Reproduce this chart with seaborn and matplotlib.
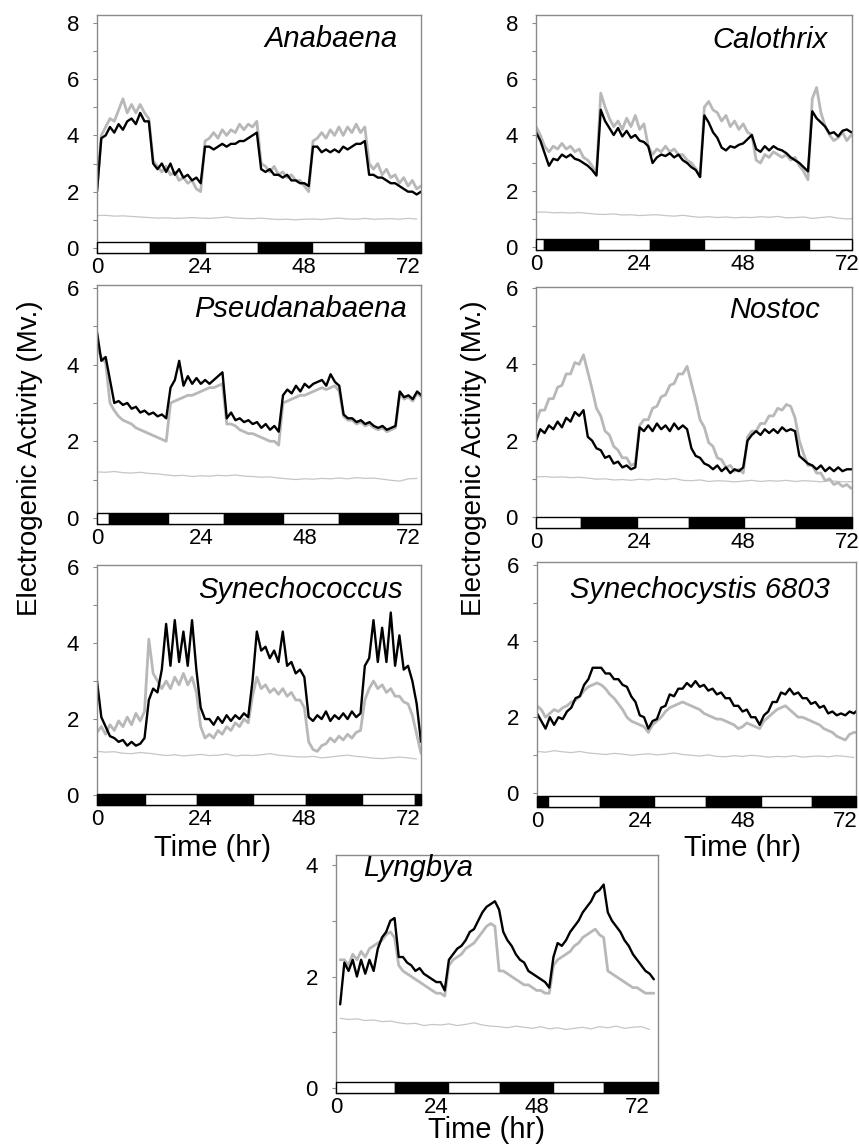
import matplotlib
matplotlib.use("Agg")
import matplotlib.pyplot as plt
import seaborn as sns

sns.set_style("white")
plt.rcParams["font.family"] = ["Liberation Sans", "DejaVu Sans"]
plt.rcParams["text.color"] = "black"
plt.rcParams["axes.labelcolor"] = "black"
plt.rcParams["xtick.color"] = "black"
plt.rcParams["ytick.color"] = "black"

# ---------------- data (hours, mV) ----------------
hours = list(range(0, 76))
base_hours = list(range(0, 76, 2))
lyngbya_hours = list(range(1, 77))
lyngbya_base_hours = list(range(1, 77, 2))

anabaena_black = [2.0, 3.9, 4.0, 4.3, 4.1, 4.4, 4.2, 4.5, 4.6, 4.4, 4.8, 4.5, 4.5,
                  3.0, 2.8, 3.0, 2.7, 3.0, 2.6, 2.8, 2.5, 2.6, 2.4, 2.5, 2.3,
                  3.6, 3.6, 3.5, 3.6, 3.7, 3.6, 3.7, 3.7, 3.8, 3.8, 3.9, 4.0, 4.1,
                  2.8, 2.7, 2.8, 2.6, 2.6, 2.5, 2.6, 2.4, 2.4, 2.3, 2.3, 2.2,
                  3.6, 3.6, 3.4, 3.5, 3.4, 3.5, 3.4, 3.6, 3.5, 3.6, 3.7, 3.7, 3.8,
                  2.6, 2.6, 2.5, 2.5, 2.4, 2.3, 2.3, 2.2, 2.1, 2.0, 2.0, 1.9, 2.0]
anabaena_gray = [2.1, 4.0, 4.3, 4.6, 4.5, 4.9, 5.3, 4.8, 5.1, 4.8, 5.1, 4.8, 4.6,
                 3.1, 2.9, 2.7, 2.9, 2.6, 2.7, 2.4, 2.5, 2.3, 2.4, 2.1, 2.0,
                 3.8, 3.9, 4.1, 3.9, 4.2, 4.0, 4.2, 4.1, 4.4, 4.2, 4.4, 4.3, 4.5,
                 3.0, 2.9, 2.7, 2.9, 2.6, 2.7, 2.5, 2.6, 2.4, 2.4, 2.2, 2.0,
                 3.8, 3.9, 4.1, 3.9, 4.2, 4.0, 4.3, 4.0, 4.3, 4.1, 4.4, 4.1, 4.3,
                 3.0, 2.8, 3.0, 2.6, 2.8, 2.5, 2.6, 2.3, 2.5, 2.2, 2.4, 2.1, 2.2]
anabaena_base = [1.15, 1.16, 1.13, 1.14, 1.12, 1.10, 1.08, 1.06, 1.07, 1.05,
                 1.06, 1.08, 1.06, 1.05, 1.07, 1.10, 1.06, 1.05, 1.04, 1.06,
                 1.03, 1.01, 1.02, 1.00, 1.02, 1.03, 1.01, 1.04, 1.06, 1.03,
                 1.02, 1.05, 1.02, 1.03, 1.04, 1.02, 1.05, 1.03]
anabaena_bar = [0, 12.3, 25.0, 37.2, 49.8, 62.0, 75.0]

calothrix_black = [4.1, 3.8, 3.35, 2.9, 3.15, 3.1, 3.3, 3.2, 3.3, 3.15, 3.1, 3.0, 2.9, 2.75, 2.55,
                   4.9, 4.5, 4.25, 4.0, 4.25, 3.95, 4.15, 3.9, 4.0, 3.8, 3.75, 3.6,
                   3.0, 3.2, 3.3, 3.25, 3.35, 3.2, 3.3, 3.1, 3.0, 2.85, 2.75, 2.5,
                   4.7, 4.45, 4.1, 3.9, 3.55, 3.45, 3.6, 3.55, 3.65, 3.7, 3.85, 4.0,
                   3.5, 3.4, 3.6, 3.45, 3.6, 3.5, 3.45, 3.35, 3.2, 3.1, 3.0, 2.85, 2.7,
                   4.85, 4.6, 4.45, 4.3, 4.05, 4.1, 3.95, 4.15, 4.2, 4.1, 4.1, 4.1]
calothrix_gray = [4.3, 4.0, 3.6, 3.4, 3.6, 3.5, 3.7, 3.5, 3.6, 3.4, 3.5, 3.2, 3.1, 2.9, 2.6,
                  5.5, 5.0, 4.6, 4.3, 4.5, 4.2, 4.6, 4.3, 4.7, 4.2, 4.4, 3.6,
                  3.3, 3.5, 3.4, 3.6, 3.4, 3.5, 3.3, 3.3, 3.1, 3.0, 2.8, 2.5,
                  5.0, 5.2, 4.9, 4.8, 4.5, 4.7, 4.3, 4.5, 4.2, 4.4, 4.1, 4.0,
                  3.1, 3.0, 3.3, 3.2, 3.4, 3.3, 3.2, 3.3, 3.1, 3.2, 2.9, 2.7, 2.4,
                  5.3, 5.7, 4.8, 4.3, 4.0, 3.8, 3.9, 4.1, 3.8, 4.0, 3.9, 4.0]
calothrix_base = [1.24, 1.25, 1.22, 1.23, 1.21, 1.23, 1.20, 1.17, 1.16, 1.18,
                  1.14, 1.15, 1.12, 1.14, 1.15, 1.12, 1.10, 1.13, 1.09, 1.06,
                  1.08, 1.05, 1.07, 1.04, 1.06, 1.05, 1.08, 1.06, 1.09, 1.04,
                  1.05, 1.07, 1.02, 1.05, 1.08, 1.03, 1.00, 1.02]
calothrix_bar = [0, 1.9, 14.4, 26.3, 38.9, 50.8, 63.3, 73.2]

pseudanabaena_black = [4.85, 4.1, 4.2, 3.6, 3.0, 3.05, 2.95, 3.0, 2.85, 2.9, 2.75, 2.8, 2.7, 2.75, 2.65, 2.7, 2.6,
                       3.4, 3.6, 4.1, 3.45, 3.7, 3.5, 3.65, 3.5, 3.6, 3.5, 3.6, 3.7, 3.8,
                       2.6, 2.75, 2.55, 2.6, 2.5, 2.55, 2.45, 2.5, 2.35, 2.45, 2.3, 2.4, 2.25,
                       3.2, 3.35, 3.25, 3.45, 3.3, 3.5, 3.4, 3.5, 3.55, 3.6, 3.45, 3.75, 3.55, 3.45,
                       2.7, 2.6, 2.6, 2.5, 2.55, 2.45, 2.5, 2.4, 2.35, 2.4, 2.3, 2.35, 2.4,
                       3.3, 3.15, 3.2, 3.1, 3.3, 3.2]
pseudanabaena_gray = [4.45, 4.2, 4.05, 3.0, 2.8, 2.65, 2.55, 2.5, 2.45, 2.35, 2.3, 2.25, 2.2, 2.15, 2.1, 2.05, 2.0,
                      3.0, 3.05, 3.1, 3.15, 3.2, 3.2, 3.25, 3.3, 3.35, 3.4, 3.4, 3.45, 3.5,
                      2.45, 2.45, 2.4, 2.3, 2.25, 2.2, 2.2, 2.15, 2.1, 2.05, 2.0, 2.0, 1.9,
                      3.0, 3.05, 3.1, 3.15, 3.2, 3.2, 3.25, 3.3, 3.35, 3.4, 3.35, 3.4, 3.45, 3.3,
                      2.65, 2.55, 2.55, 2.45, 2.5, 2.4, 2.45, 2.35, 2.3, 2.35, 2.25, 2.3, 2.35,
                      3.25, 3.1, 3.15, 3.05, 3.25, 3.15]
pseudanabaena_base = [1.20, 1.19, 1.21, 1.18, 1.17, 1.19, 1.16, 1.15, 1.12, 1.10,
                      1.11, 1.08, 1.10, 1.09, 1.11, 1.10, 1.12, 1.09, 1.08, 1.06,
                      1.07, 1.04, 1.02, 1.00, 1.02, 1.01, 1.03, 1.02, 1.04, 1.02,
                      1.05, 1.03, 1.04, 1.01, 0.98, 0.96, 1.02, 1.03]
pseudanabaena_bar = [0, 2.7, 16.3, 29.4, 43.0, 56.0, 69.6, 74.9]

nostoc_black = [2.0, 2.3, 2.2, 2.4, 2.3, 2.5, 2.35, 2.6, 2.5, 2.75, 2.65,
                2.8, 2.1, 2.0, 1.8, 1.75, 1.55, 1.6, 1.4, 1.45, 1.3, 1.35, 1.25, 1.3,
                2.35, 2.25, 2.4, 2.25, 2.45, 2.3, 2.4, 2.25, 2.45, 2.3, 2.4, 2.3,
                1.8, 1.6, 1.55, 1.4, 1.35, 1.25, 1.35, 1.2, 1.3, 1.15, 1.25, 1.2, 1.3,
                2.0, 2.15, 2.25, 2.15, 2.3, 2.2, 2.3, 2.2, 2.35, 2.25, 2.3, 2.25,
                1.6, 1.5, 1.4, 1.35, 1.25, 1.35, 1.2, 1.3, 1.2, 1.3, 1.2, 1.25, 1.25, 1.25, 1.25]
nostoc_gray = [2.5, 2.8, 2.8, 3.1, 3.1, 3.4, 3.45, 3.75, 3.75, 4.05, 4.0, 4.25,
               3.8, 3.35, 2.85, 2.65, 2.25, 2.15, 1.85, 1.75, 1.55, 1.55, 1.35, 1.4,
               2.4, 2.55, 2.55, 2.85, 2.9, 3.15, 3.2, 3.45, 3.5, 3.75, 3.75, 3.95,
               3.5, 3.05, 2.55, 2.35, 1.95, 1.85, 1.55, 1.5, 1.3, 1.35, 1.2, 1.25, 1.15,
               2.1, 2.25, 2.25, 2.45, 2.45, 2.65, 2.65, 2.85, 2.8, 2.95, 2.9, 2.6,
               2.0, 1.65, 1.35, 1.35, 1.15, 1.15, 0.95, 1.0, 0.85, 0.9, 0.8, 0.85, 0.75, 0.8, 0.75]
nostoc_base = [1.05, 1.06, 1.04, 1.05, 1.03, 1.04, 1.02, 0.99, 1.00, 0.97,
               0.98, 0.96, 0.99, 0.97, 1.00, 0.98, 1.01, 0.96, 0.95, 0.97,
               0.93, 0.95, 0.94, 0.92, 0.94, 0.96, 0.93, 0.95, 0.94, 0.96,
               0.93, 0.95, 0.94, 0.92, 0.95, 0.93, 0.92, 0.93]
nostoc_bar = [0, 10.4, 23.3, 35.4, 48.1, 60.3, 73.2]

synechococcus_black = [3.0, 2.05, 1.8, 1.55, 1.5, 1.4, 1.45, 1.3, 1.4, 1.3, 1.35, 1.5,
                       2.5, 2.8, 2.7, 3.3, 4.5, 3.4, 4.6, 3.5, 4.3, 3.4, 4.6, 3.3,
                       2.3, 2.0, 2.0, 1.85, 2.05, 1.9, 2.1, 1.95, 2.1, 2.0, 2.15, 2.05, 3.0,
                       4.3, 3.8, 3.9, 3.6, 3.8, 3.5, 4.3, 3.4, 3.5, 3.2, 3.3, 3.1,
                       2.05, 1.95, 2.1, 2.0, 2.2, 1.95, 2.1, 2.0, 2.15, 2.0, 2.2, 2.05, 2.15,
                       3.4, 3.6, 4.6, 3.5, 4.4, 3.5, 4.8, 3.4, 4.2, 3.3, 3.4, 3.0, 2.4, 1.4]
synechococcus_gray = [1.65, 1.8, 1.6, 1.85, 1.7, 1.95, 1.8, 2.05, 1.85, 2.15, 1.95, 2.2,
                      4.1, 3.2, 3.0, 2.8, 3.0, 2.8, 3.1, 2.9, 3.2, 2.9, 3.1, 2.7,
                      1.8, 1.5, 1.6, 1.5, 1.7, 1.6, 1.8, 1.7, 1.9, 1.8, 2.0, 1.9, 2.6,
                      3.1, 2.8, 2.9, 2.7, 2.8, 2.65, 2.8, 2.6, 2.7, 2.5, 2.5, 2.3,
                      1.4, 1.2, 1.15, 1.3, 1.35, 1.5, 1.4, 1.55, 1.45, 1.6, 1.5, 1.65, 1.7,
                      2.5, 2.8, 3.0, 2.8, 2.9, 2.7, 2.8, 2.6, 2.6, 2.45, 2.4, 2.1, 1.6, 1.1]
synechococcus_base = [1.15, 1.13, 1.14, 1.10, 1.09, 1.12, 1.10, 1.07, 1.04, 1.06,
                      1.03, 1.05, 1.07, 1.04, 1.05, 1.08, 1.03, 1.05, 1.04, 1.06,
                      1.09, 1.05, 1.03, 1.01, 1.00, 1.02, 0.98, 1.00, 1.03, 1.05,
                      1.02, 1.00, 0.97, 0.96, 0.98, 1.00, 0.98, 0.95]
synechococcus_bar = [0, 11.0, 23.2, 36.2, 48.3, 61.3, 73.6, 75.0]

synechocystis_black = [2.1, 1.9, 1.7, 2.0, 1.8, 2.0, 1.95, 2.15, 2.25, 2.5, 2.55, 2.85, 3.0,
                       3.3, 3.3, 3.3, 3.15, 3.15, 3.0, 3.0, 2.85, 2.8, 2.55, 2.4, 2.05, 2.0,
                       1.7, 1.9, 1.95, 2.25, 2.3, 2.6, 2.55, 2.75, 2.75, 2.9, 2.8, 2.95, 2.8,
                       2.85, 2.7, 2.75, 2.6, 2.65, 2.5, 2.5, 2.3, 2.3, 2.15, 2.2, 2.0, 2.0,
                       1.8, 2.05, 2.15, 2.4, 2.4, 2.65, 2.6, 2.75, 2.6, 2.65, 2.5, 2.5, 2.35,
                       2.4, 2.25, 2.3, 2.1, 2.15, 2.05, 2.1, 2.05, 2.15, 2.1, 2.2]
synechocystis_gray = [2.3, 2.2, 2.0, 2.1, 2.2, 2.15, 2.25, 2.3, 2.4, 2.45, 2.55, 2.7, 2.8,
                      2.85, 2.9, 2.85, 2.75, 2.6, 2.5, 2.35, 2.2, 2.0, 1.9, 1.85, 1.8, 1.75,
                      1.6, 1.8, 1.9, 2.0, 2.15, 2.25, 2.3, 2.35, 2.4, 2.35, 2.3, 2.25, 2.2,
                      2.1, 2.05, 2.0, 1.95, 1.95, 1.9, 1.85, 1.8, 1.7, 1.75, 1.85, 1.8, 1.75,
                      1.7, 1.9, 2.0, 2.1, 2.2, 2.25, 2.3, 2.2, 2.1, 2.0, 2.0, 1.95, 1.9,
                      1.85, 1.8, 1.7, 1.65, 1.6, 1.5, 1.45, 1.4, 1.55, 1.6, 1.6]
synechocystis_base = [1.10, 1.08, 1.12, 1.09, 1.07, 1.10, 1.06, 1.04, 1.02, 1.05,
                      1.03, 1.00, 1.02, 1.04, 1.01, 1.03, 1.06, 1.02, 1.00, 0.98,
                      1.01, 0.97, 0.96, 0.99, 0.97, 1.00, 0.98, 0.95, 0.97, 0.96,
                      0.99, 0.95, 0.97, 0.98, 0.96, 0.99, 0.97, 0.94]
synechocystis_bar = [0, 2.6, 14.6, 27.4, 39.4, 52.2, 64.2, 74.5]

lyngbya_black = [1.5, 2.25, 2.1, 2.3, 2.0, 2.3, 2.05, 2.3, 2.1, 2.5, 2.7, 2.8, 3.0, 3.05,
                 2.35, 2.35, 2.25, 2.2, 2.1, 2.15, 2.05, 2.0, 1.95, 1.9, 1.9, 1.75,
                 2.3, 2.4, 2.5, 2.55, 2.65, 2.8, 2.85, 3.0, 3.15, 3.25, 3.3, 3.35, 3.2,
                 2.8, 2.65, 2.55, 2.4, 2.3, 2.25, 2.1, 2.05, 2.0, 1.95, 1.9, 1.8,
                 2.35, 2.6, 2.55, 2.65, 2.8, 2.9, 3.0, 3.15, 3.25, 3.35, 3.5, 3.55, 3.65,
                 3.15, 3.0, 2.9, 2.8, 2.65, 2.55, 2.4, 2.3, 2.2, 2.1, 2.05, 1.95]
lyngbya_gray = [2.3, 2.3, 2.2, 2.4, 2.3, 2.45, 2.35, 2.5, 2.55, 2.6, 2.65, 2.75, 2.8, 2.7,
                2.2, 2.1, 2.05, 2.0, 1.95, 1.9, 1.85, 1.8, 1.75, 1.7, 1.7, 1.65,
                2.2, 2.3, 2.35, 2.4, 2.5, 2.55, 2.6, 2.7, 2.8, 2.9, 2.95, 2.9, 2.1,
                2.1, 2.05, 2.0, 1.95, 1.9, 1.85, 1.85, 1.8, 1.75, 1.75, 1.7, 1.7,
                2.2, 2.3, 2.35, 2.4, 2.45, 2.55, 2.6, 2.7, 2.75, 2.8, 2.85, 2.75, 2.7,
                2.1, 2.05, 2.0, 1.95, 1.9, 1.85, 1.8, 1.8, 1.75, 1.7, 1.7, 1.7]
lyngbya_base = [1.25, 1.23, 1.24, 1.21, 1.22, 1.19, 1.20, 1.17, 1.15, 1.16,
                1.12, 1.14, 1.13, 1.15, 1.12, 1.14, 1.17, 1.13, 1.11, 1.10,
                1.08, 1.11, 1.09, 1.07, 1.10, 1.06, 1.08, 1.05, 1.07, 1.09,
                1.06, 1.10, 1.08, 1.11, 1.07, 1.09, 1.10, 1.05]
lyngbya_bar = [0, 14.05, 26.9, 39.2, 51.8, 64.0, 77.0]

x_ticks = [0, 24, 48, 72]

# ---------------- layout ----------------
W, H = 859, 1145
fig = plt.figure(figsize=(W / 100, H / 100), dpi=100)

BLACK = "#000000"
GRAY = "#b8b8b8"
BASE = "#c6c6c6"
SPINE = "#8a8a8a"


def rect(l, t, r, b):
    return [l / W, 1 - b / H, (r - l) / W, (b - t) / H]


def make(box, hrs, black, gray, bhrs, base, bar, first_light, xlim, ylim,
         yticks, title, tpos, tha):
    ax = fig.add_axes(rect(*box))
    sns.lineplot(x=bhrs, y=base, ax=ax, color=BASE, linewidth=0.9, estimator=None)
    sns.lineplot(x=hrs, y=gray, ax=ax, color=GRAY, linewidth=2.0, estimator=None)
    sns.lineplot(x=hrs, y=black, ax=ax, color=BLACK, linewidth=1.7, estimator=None)
    h_px = box[3] - box[1]
    bar_h = 11.0 / h_px
    trans = ax.get_xaxis_transform()
    for i in range(len(bar) - 1):
        light = (i % 2 == 0) == first_light
        ax.bar(x=bar[i], height=bar_h, width=bar[i + 1] - bar[i], bottom=0,
               align="edge", color="white" if light else "black",
               edgecolor="black", linewidth=1.0, transform=trans, zorder=5,
               clip_on=False)
    ax.set_xlim(*xlim)
    ax.set_ylim(*ylim)
    ax.set_xticks(x_ticks)
    ax.set_xticklabels([str(v) for v in x_ticks])
    ax.set_yticks(yticks)
    ax.set_yticklabels([str(v) for v in yticks])
    ax.set_yticks([v + 1 for v in yticks[:-1]], minor=True)
    ax.tick_params(axis="x", length=0, pad=3, labelsize=16, labelcolor="black")
    ax.tick_params(axis="y", which="both", length=3, width=0.8, color=SPINE,
                   direction="out", pad=10, labelsize=16, left=True,
                   labelcolor="black")
    for s in ax.spines.values():
        s.set_color(SPINE)
        s.set_linewidth(1.0)
    ax.set_xlabel("")
    ax.set_ylabel("")
    fig.text(tpos[0] / W, 1 - tpos[1] / H, title, ha=tha, va="center",
             fontsize=21, style="italic", color="black")
    return ax


make((97, 15, 421, 253), hours, anabaena_black, anabaena_gray, base_hours, anabaena_base,
     anabaena_bar, True, (0, 75.0), (-0.18, 8.28), [0, 2, 4, 6, 8],
     "Anabaena", (398, 39), "right")
make((536, 15, 852, 250), hours, calothrix_black, calothrix_gray, base_hours, calothrix_base,
     calothrix_bar, True, (0, 73.2), (-0.11, 8.29), [0, 2, 4, 6, 8],
     "Calothrix", (828, 40), "right")
make((97, 285, 421, 524), hours, pseudanabaena_black, pseudanabaena_gray, base_hours,
     pseudanabaena_base, pseudanabaena_bar, True, (0, 74.9), (-0.16, 6.08), [0, 2, 4, 6],
     "Pseudanabaena", (407, 309), "right")
make((536, 287, 852, 528), hours, nostoc_black, nostoc_gray, base_hours, nostoc_base,
     nostoc_bar, True, (0, 73.2), (-0.29, 6.03), [0, 2, 4, 6],
     "Nostoc", (820, 310), "right")
make((97, 565, 421, 805), hours, synechococcus_black, synechococcus_gray, base_hours,
     synechococcus_base, synechococcus_bar, False, (0, 75.0), (-0.26, 6.05), [0, 2, 4, 6],
     "Synechococcus", (403, 590), "right")
make((537, 562, 856, 807), hours, synechocystis_black, synechocystis_gray, base_hours,
     synechocystis_base, synechocystis_bar, False, (0, 74.5), (-0.36, 6.08), [0, 2, 4, 6],
     "Synechocystis 6803", (830, 590), "right")
make((336, 855, 658, 1093), lyngbya_hours, lyngbya_black, lyngbya_gray, lyngbya_base_hours,
     lyngbya_base, lyngbya_bar, True, (0, 77.0), (-0.09, 4.18), [0, 2, 4],
     "Lyngbya", (363, 868), "left")

# axis labels
for (x, y) in [(213, 848), (743, 848), (487, 1130)]:
    fig.text(x / W, 1 - y / H, "Time (hr)", ha="center", va="center", fontsize=21,
             color="black")
for (x, y) in [(30, 458), (474, 458)]:
    fig.text(x / W, 1 - y / H, "Electrogenic Activity (Mv.)", ha="center", va="center",
             rotation=90, fontsize=20, color="black")

fig.savefig("out.png", dpi=100)
